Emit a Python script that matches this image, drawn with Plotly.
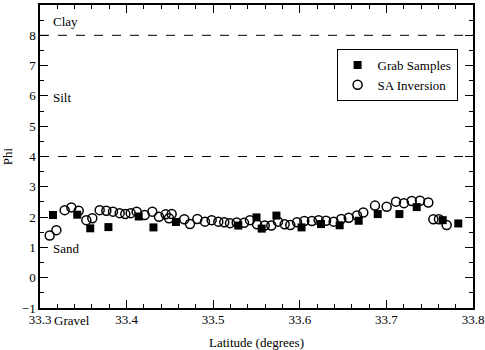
import plotly.graph_objects as go

# Grab samples (filled squares)
grab_lat = [33.315, 33.343, 33.358, 33.379, 33.414, 33.431, 33.457, 33.529, 33.550,
            33.556, 33.573, 33.602, 33.6245, 33.646, 33.668, 33.690, 33.715, 33.735,
            33.765, 33.783]
grab_phi = [2.07, 2.08, 1.63, 1.67, 2.02, 1.66, 1.84, 1.72, 1.99,
            1.62, 2.05, 1.66, 1.77, 1.73, 1.88, 2.10, 2.10, 2.33,
            1.90, 1.79]

# SA inversion (open circles)
sa_lat = [33.3112, 33.3189, 33.3285, 33.3362, 33.3447, 33.3535, 33.3604, 33.3689,
          33.3766, 33.3843, 33.392, 33.3985, 33.4047, 33.4116, 33.4209, 33.4297,
          33.4374, 33.4451, 33.449, 33.452, 33.4666, 33.4732, 33.4817, 33.4905,
          33.4982, 33.5059, 33.5128, 33.5194, 33.5271, 33.5356, 33.5425, 33.5506,
          33.5595, 33.5671, 33.5748, 33.5825, 33.589, 33.5968, 33.6052, 33.614,
          33.6218, 33.6303, 33.6391, 33.6479, 33.6565, 33.666, 33.6733, 33.6868,
          33.7003, 33.7111, 33.7203, 33.7292, 33.7388, 33.7484, 33.7542, 33.7607,
          33.7696]
sa_phi = [1.39, 1.57, 2.23, 2.32, 2.21, 1.90, 1.96, 2.23,
          2.21, 2.18, 2.13, 2.10, 2.13, 2.18, 2.07, 2.18,
          2.01, 2.09, 1.96, 2.10, 1.93, 1.77, 1.94, 1.85,
          1.90, 1.85, 1.83, 1.80, 1.82, 1.81, 1.90, 1.76,
          1.72, 1.72, 1.85, 1.76, 1.74, 1.83, 1.87, 1.87,
          1.90, 1.88, 1.85, 1.94, 1.98, 2.05, 2.15, 2.38,
          2.34, 2.51, 2.46, 2.53, 2.54, 2.48, 1.93, 1.93,
          1.74]

# class boundaries and labels
boundaries = [8, 4]
class_labels = ["Clay", "Silt", "Sand"]
class_phi = [8.47, 5.96, 0.95]

FONT = "Liberation Serif"
FS = 13

fig = go.Figure()
for b in boundaries:
    fig.add_shape(type="line", xref="paper", x0=0, x1=1, y0=b, y1=b,
                  line=dict(color="black", width=1, dash="dash"))

fig.add_trace(go.Scatter(
    x=grab_lat, y=grab_phi, mode="markers", name="Grab Samples",
    marker=dict(symbol="square", size=8, color="black"),
))
fig.add_trace(go.Scatter(
    x=sa_lat, y=sa_phi, mode="markers", name="SA Inversion",
    marker=dict(symbol="circle-open", size=9, color="black", line=dict(width=1.5)),
))

for lab, p in zip(class_labels, class_phi):
    fig.add_annotation(x=33.3125, y=p, text=lab, showarrow=False,
                       xanchor="left", yanchor="middle",
                       font=dict(family=FONT, size=FS, color="black"))
fig.add_annotation(x=33.3135, y=-1, text="Gravel", showarrow=False,
                   xanchor="left", yanchor="top", yshift=-3,
                   font=dict(family=FONT, size=FS, color="black"))

axis_common = dict(
    showgrid=False, zeroline=False, showline=True, linecolor="black", linewidth=1.5,
    mirror="ticks", ticks="inside", ticklen=8, tickwidth=1, tickcolor="black",
    tickfont=dict(family=FONT, size=FS, color="black"), automargin=False,
)

fig.update_layout(
    width=485, height=350,
    paper_bgcolor="white", plot_bgcolor="white",
    font=dict(family=FONT, size=FS, color="black"),
    margin=dict(l=40, r=12, t=5, b=42),
    showlegend=True,
    legend=dict(x=0.685, y=0.855, xanchor="left", yanchor="top",
                bordercolor="black", borderwidth=1, bgcolor="white",
                font=dict(family=FONT, size=FS), itemwidth=30,
                tracegroupgap=0),
    xaxis=dict(range=[33.3, 33.8], dtick=0.1, tick0=33.3,
               minor=dict(dtick=0.02, ticks="inside", ticklen=4, tickcolor="black"),
               ticklabelstandoff=-1,
               title=dict(text="Latitude (degrees)", standoff=16,
                          font=dict(family=FONT, size=FS)),
               **axis_common),
    yaxis=dict(range=[-1, 9], dtick=1, tick0=-1,
               minor=dict(dtick=0.5, ticks="inside", ticklen=4, tickcolor="black"),
               title=dict(text="Phi", standoff=14, font=dict(family=FONT, size=FS)),
               **axis_common),
)

# the page has a default body margin; drop it so the figure fills the window
fig.write_html("out.html", config={"displayModeBar": False},
               post_script="document.body.style.margin='0px';")
